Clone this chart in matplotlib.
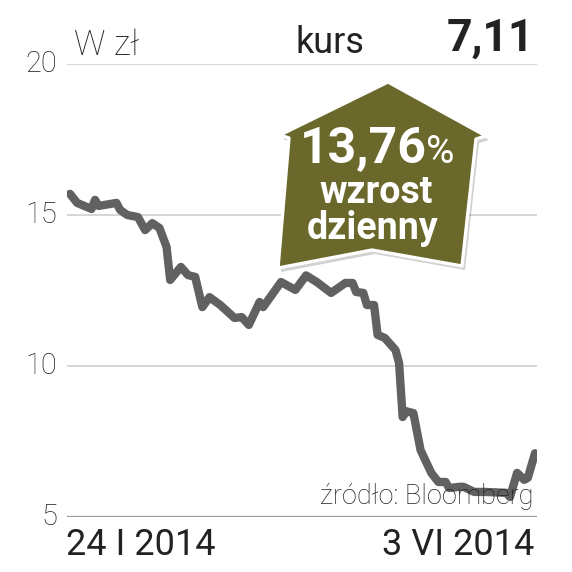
import numpy as np
import pandas as pd
import matplotlib
matplotlib.use("Agg")
import matplotlib.pyplot as plt
from matplotlib.patches import Polygon
from matplotlib.transforms import blended_transform_factory

# Dane: kurs akcji (zł), 24 I 2014 - 3 VI 2014
dates = ["2014-01-24", "2014-01-26", "2014-01-30", "2014-01-31", "2014-02-01",
         "2014-02-06", "2014-02-07", "2014-02-09", "2014-02-12", "2014-02-14",
         "2014-02-16", "2014-02-18", "2014-02-20", "2014-02-21", "2014-02-24",
         "2014-02-26", "2014-02-28", "2014-03-02", "2014-03-04", "2014-03-07",
         "2014-03-11", "2014-03-13", "2014-03-15", "2014-03-18", "2014-03-19",
         "2014-03-24", "2014-03-28", "2014-03-31", "2014-04-03", "2014-04-07",
         "2014-04-11", "2014-04-13", "2014-04-14", "2014-04-16", "2014-04-17",
         "2014-04-19", "2014-04-20", "2014-04-22", "2014-04-25", "2014-04-26",
         "2014-04-27", "2014-04-28", "2014-04-30", "2014-05-02", "2014-05-05",
         "2014-05-07", "2014-05-09", "2014-05-10", "2014-05-13", "2014-05-14",
         "2014-05-17", "2014-05-20", "2014-05-26", "2014-05-27", "2014-05-29",
         "2014-05-31", "2014-06-01", "2014-06-03"]
prices = [15.70, 15.40, 15.20, 15.50, 15.30,
          15.40, 15.17, 15.00, 14.93, 14.50,
          14.73, 14.57, 13.94, 12.85, 13.28,
          13.01, 12.95, 11.95, 12.28, 12.02,
          11.59, 11.62, 11.36, 12.12, 11.95,
          12.78, 12.52, 13.00, 12.78, 12.42,
          12.75, 12.75, 12.45, 12.42, 12.02,
          12.02, 11.03, 10.93, 10.53, 10.10,
          8.31, 8.50, 8.44, 7.22, 6.46,
          6.16, 6.16, 5.96, 6.00, 6.00,
          5.83, 5.83, 5.80, 5.66, 6.46,
          6.23, 6.30, 7.11]
y_ticks = [5, 10, 15, 20]
x_labels = ["24 I 2014", "3 VI 2014"]
last_price = "7,11"
change_label = "13,76"

FONT = "Roboto"
dark = "#222222"
olive = "#6a692b"
W = H = 572

def fx(px):
    return px / W

def fy(py):
    return 1 - py / H

t = pd.to_datetime(dates)
day = (t - t[0]).days.values

fig = plt.figure(figsize=(5.72, 5.72), dpi=100)
ax = fig.add_axes([fx(67), fy(517), fx(537) - fx(67), fy(64) - fy(517)])
ax.set_xlim(-0.84, day[-1] + 0.56)
ax.set_ylim(5, 20)
ax.axis("off")

# Linie siatki i opisy osi Y
lab_tr = blended_transform_factory(fig.transFigure, ax.transData)
for v in y_ticks:
    base = v == y_ticks[0]
    ax.axhline(v, color="#9a9a9a" if base else "#cfcfcf",
               lw=1.6 if base else 1.2, zorder=1)
    ax.text(fx(57), v, str(v), transform=lab_tr, ha="right", va="center",
            fontsize=21, fontfamily=FONT, fontweight="light", color=dark)

ax.plot(day, prices, color="#616161", lw=6.0, solid_joinstyle="round",
        solid_capstyle="round", zorder=3)

# Nagłówek
fig.text(fx(74), fy(55), "W zł", fontsize=25, fontfamily=FONT,
         fontweight="light", color=dark, va="baseline")
fig.text(fx(330), fy(53), "kurs", fontsize=26, fontfamily=FONT,
         color=dark, va="baseline", ha="center")
fig.text(fx(534), fy(51), last_price, fontsize=32, fontfamily=FONT,
         fontweight="bold", color=dark, va="baseline", ha="right")

# Daty
fig.text(fx(66), fy(555), x_labels[0], fontsize=26, fontfamily=FONT,
         color=dark, va="baseline", ha="left")
fig.text(fx(534), fy(555), x_labels[1], fontsize=26, fontfamily=FONT,
         color=dark, va="baseline", ha="right")

# Źródło
fig.text(fx(533), fy(504), "źródło: Bloomberg", fontsize=19.5, fontfamily=FONT,
         fontweight="light", color=dark, va="baseline", ha="right", zorder=5)

# Strzałka
arrow_px = [(388, 82), (486, 136), (476, 139), (462, 266), (372, 250),
            (278, 268), (289, 138), (280, 135)]
shadow = Polygon([(fx(x + 3), fy(y + 4)) for x, y in arrow_px], closed=True,
                 transform=fig.transFigure, facecolor="#000000", alpha=0.18,
                 edgecolor="none", zorder=6)
body = Polygon([(fx(x), fy(y)) for x, y in arrow_px], closed=True,
               transform=fig.transFigure, facecolor=olive, edgecolor="white",
               lw=2.4, joinstyle="round", zorder=7)
fig.add_artist(shadow)
fig.add_artist(body)

fig.text(fx(300), fy(163), change_label, fontsize=36, fontfamily=FONT,
         fontweight="bold", color="white", va="baseline", ha="left", zorder=8)
fig.text(fx(426), fy(163), "%", fontsize=28, fontfamily=FONT,
         color="white", va="baseline", ha="left", zorder=8)
fig.text(fx(376), fy(203), "wzrost", fontsize=27, fontfamily=FONT,
         fontweight="bold", color="white", va="baseline", ha="center", zorder=8)
fig.text(fx(373), fy(239), "dzienny", fontsize=27, fontfamily=FONT,
         fontweight="bold", color="white", va="baseline", ha="center", zorder=8)

fig.savefig("out.png", dpi=100, facecolor="white")
